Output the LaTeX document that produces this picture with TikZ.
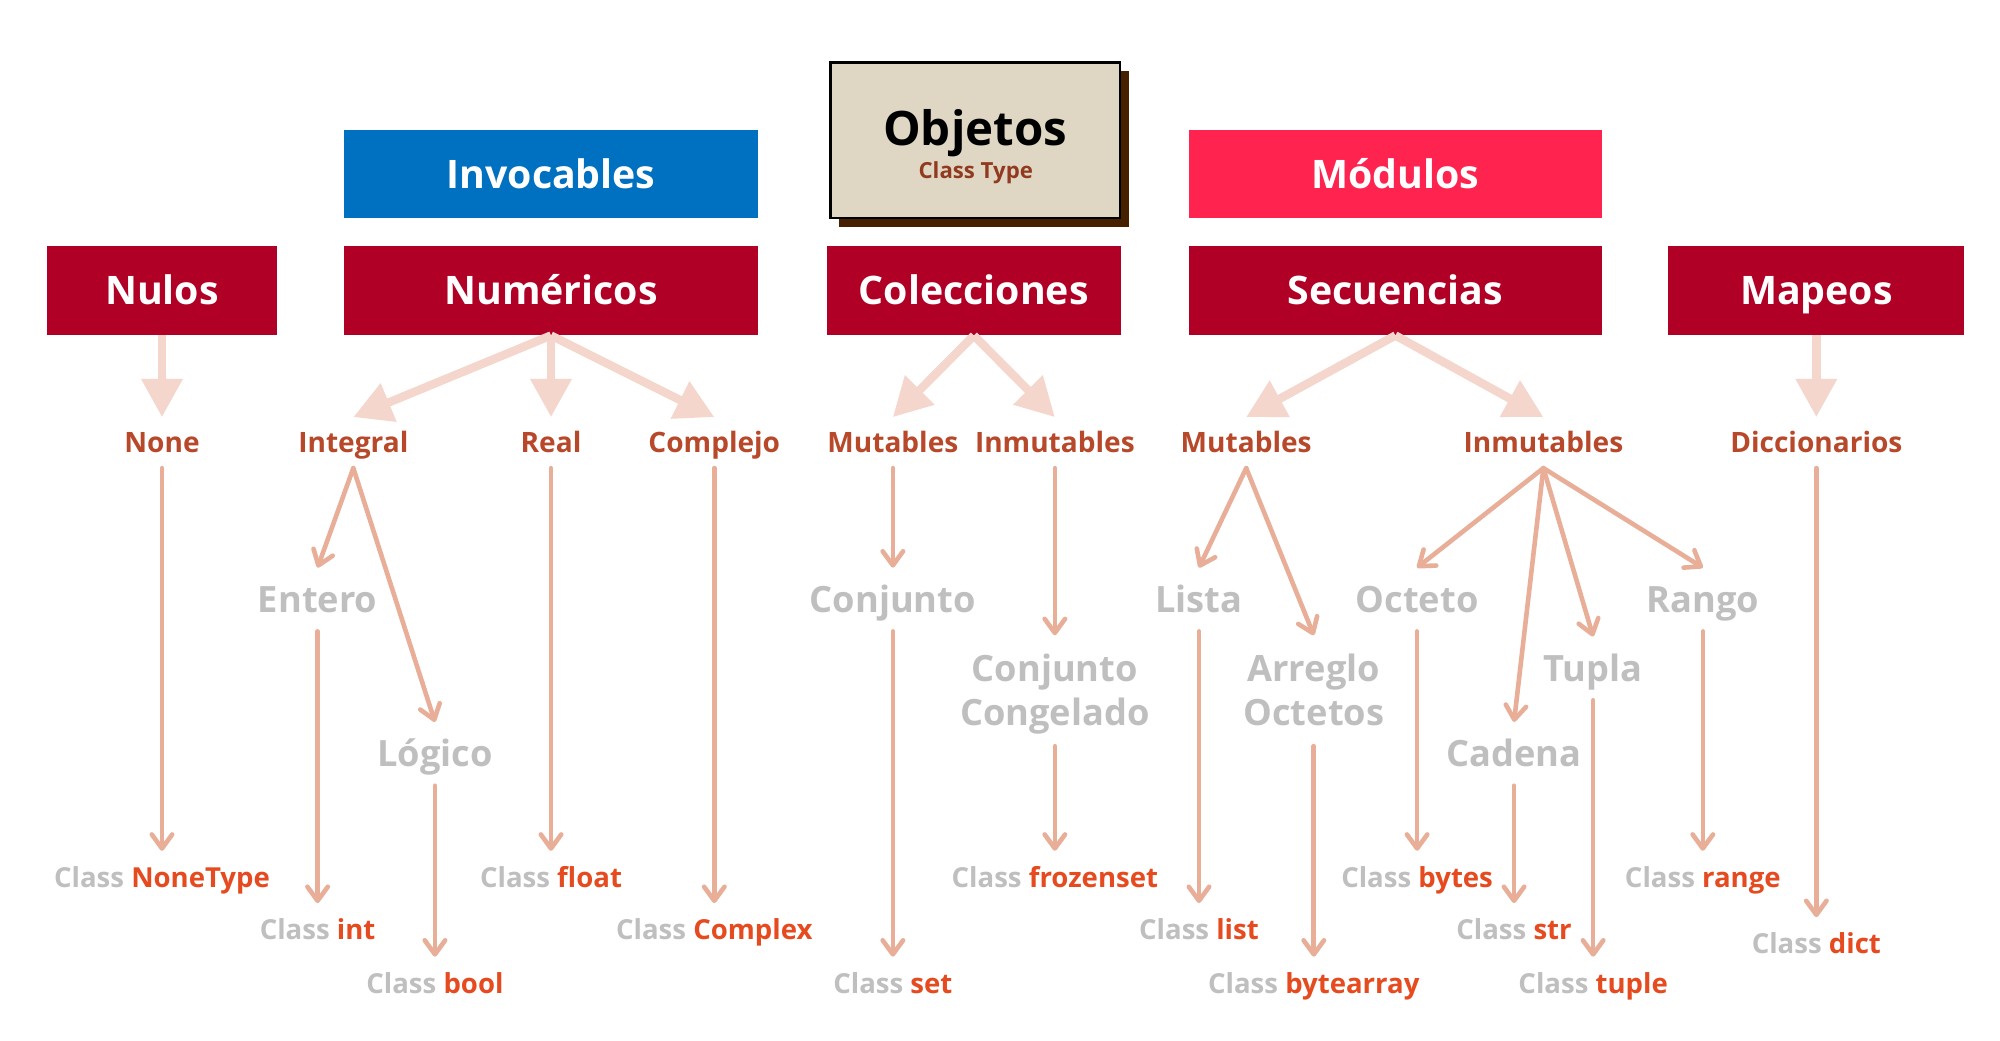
\documentclass[tikz,border=0pt]{standalone}
\usepackage{fontspec}
\setmainfont{Open Sans}
\usetikzlibrary{arrows.meta,shadows}
\definecolor{boxred}{HTML}{B00026}
\definecolor{boxblue}{HTML}{0070C0}
\definecolor{boxpink}{HTML}{FF2350}
\definecolor{objfill}{HTML}{DFD7C3}
\definecolor{objshadow}{HTML}{452100}
\definecolor{subbrown}{HTML}{923A1F}
\definecolor{lvltwo}{HTML}{B8482A}
\definecolor{lvlgray}{HTML}{BFBFBF}
\definecolor{clsname}{HTML}{E64A1F}
\definecolor{thickcol}{HTML}{F4D6CC}
\definecolor{thincol}{HTML}{E8AE98}
\begin{document}
\begin{tikzpicture}[x=0.5pt,y=-0.5pt,
  catbox/.style={fill=boxred, text=white, inner sep=0pt, outer sep=0pt,
    minimum height=35pt, font=\fontsize{15.4}{18}\selectfont\bfseries,
    text height=11pt, text depth=0pt},
  topbox/.style={catbox, minimum height=34.5pt, minimum width=162pt},
  lvltwolbl/.style={text=lvltwo, inner sep=0pt, outer sep=0pt, minimum height=20pt,
    font=\fontsize{11}{13}\selectfont\bfseries, text height=7.85pt, text depth=0pt},
  lvlthree/.style={text=lvlgray, inner sep=0pt, outer sep=0pt, minimum height=25pt,
    font=\fontsize{14.2}{17.5}\selectfont\bfseries, text height=10.1pt, text depth=0pt, align=center},
  lvlthreetwo/.style={lvlthree, minimum height=43.5pt, text height=27.6pt, text depth=0pt},
  clslbl/.style={text=lvlgray, inner sep=0pt, outer sep=0pt, minimum height=21pt,
    font=\fontsize{10.8}{13}\selectfont\bfseries, text height=7.7pt, text depth=0pt},
  thickarrow/.style={draw=thickcol, line width=3.3pt, -{Triangle[length=15pt,width=15.5pt]}},
  thinarrow/.style={draw=thincol, line width=1.8pt, line cap=round,
    -{Straight Barb[length=5.5pt,width=8pt,line cap=round,line join=round]}}
]
\fill[white] (0,0) rectangle (1568,815.4);
\useasboundingbox (0,0) rectangle (1568,815.4);

% top boxes
\node[draw=black, line width=1pt, fill=objfill, minimum width=113.5pt, minimum height=61pt,
  inner sep=0pt, outer sep=0pt,
  general shadow={fill=objshadow, shadow xshift=3.5pt, shadow yshift=-3.5pt}] (objetos) at (764.5,110) {};
\node[inner sep=0pt, font=\fontsize{18.6}{22}\selectfont\bfseries, text height=13.3pt, text depth=0pt] (objtitle) at (764.5,101) {Objetos};
\node[inner sep=0pt, text=subbrown, font=\fontsize{8.7}{10}\selectfont\bfseries, text height=6.2pt, text depth=0pt] (objsub) at (765,134) {Class Type};

\node[topbox, fill=boxblue] (invocables) at (432,136.5) {Invocables};
\node[topbox, fill=boxpink] (modulos) at (1094,136.5) {Módulos};

% category boxes
\node[catbox, minimum width=90pt] (nulos) at (127,228) {Nulos};
\node[catbox, minimum width=162pt] (numericos) at (432,228) {Numéricos};
\node[catbox, minimum width=115.5pt] (colecciones) at (763.5,228) {Colecciones};
\node[catbox, minimum width=162pt] (secuencias) at (1094,228) {Secuencias};
\node[catbox, minimum width=116pt] (mapeos) at (1424,228) {Mapeos};

% level two
\node[lvltwolbl] (none) at (127,347) {None};
\node[lvltwolbl] (integral) at (277,347) {Integral};
\node[lvltwolbl] (real) at (432,347) {Real};
\node[lvltwolbl] (complejo) at (560,347) {Complejo};
\node[lvltwolbl] (cmut) at (700,347) {Mutables};
\node[lvltwolbl] (cinm) at (827,347) {Inmutables};
\node[lvltwolbl] (smut) at (977,347) {Mutables};
\node[lvltwolbl] (sinm) at (1210,347) {Inmutables};
\node[lvltwolbl] (dicc) at (1424,347) {Diccionarios};

% level three
\node[lvlthree] (entero) at (249,470) {Entero};
\node[lvlthree] (logico) at (341,591) {Lógico};
\node[lvlthree] (conjunto) at (700,470) {Conjunto};
\node[lvlthreetwo] (congelado) at (827,541.5) {Conjunto\\Congelado};
\node[lvlthree] (lista) at (940,470) {Lista};
\node[lvlthreetwo] (arreglo) at (1030,541.5) {Arreglo\\Octetos};
\node[lvlthree] (octeto) at (1111,470) {Octeto};
\node[lvlthree] (tupla) at (1249,524) {Tupla};
\node[lvlthree] (cadena) at (1187,591) {Cadena};
\node[lvlthree] (rango) at (1335,470) {Rango};

% classes
\node[clslbl] (nonetype) at (127,688) {Class \textcolor{clsname}{NoneType}};
\node[clslbl] (int) at (249,729) {Class \textcolor{clsname}{int}};
\node[clslbl] (bool) at (341,771) {Class \textcolor{clsname}{bool}};
\node[clslbl] (float) at (432,688) {Class \textcolor{clsname}{float}};
\node[clslbl] (complex) at (560,729) {Class \textcolor{clsname}{Complex}};
\node[clslbl] (set) at (700,771) {Class \textcolor{clsname}{set}};
\node[clslbl] (frozenset) at (827,688) {Class \textcolor{clsname}{frozenset}};
\node[clslbl] (list) at (940,729) {Class \textcolor{clsname}{list}};
\node[clslbl] (bytearray) at (1030,771) {Class \textcolor{clsname}{bytearray}};
\node[clslbl] (bytes) at (1111,688) {Class \textcolor{clsname}{bytes}};
\node[clslbl] (str) at (1187,729) {Class \textcolor{clsname}{str}};
\node[clslbl] (tuple) at (1249,771) {Class \textcolor{clsname}{tuple}};
\node[clslbl] (range) at (1335,688) {Class \textcolor{clsname}{range}};
\node[clslbl] (dict) at (1424,740) {Class \textcolor{clsname}{dict}};

% thick arrows
\draw[thickarrow] (nulos.south) -- (none.north);
\draw[thickarrow] (numericos.south) -- (integral.north);
\draw[thickarrow] (numericos.south) -- (real.north);
\draw[thickarrow] (numericos.south) -- (complejo.north);
\draw[thickarrow] (colecciones.south) -- (cmut.north);
\draw[thickarrow] (colecciones.south) -- (cinm.north);
\draw[thickarrow] (secuencias.south) -- (smut.north);
\draw[thickarrow] (secuencias.south) -- (sinm.north);
\draw[thickarrow] (mapeos.south) -- (dicc.north);

% thin arrows
\draw[thinarrow] (none.south) -- (nonetype.north);
\draw[thinarrow] (integral.south) -- (entero.north);
\draw[thinarrow] (integral.south) -- (logico.north);
\draw[thinarrow] (real.south) -- (float.north);
\draw[thinarrow] (complejo.south) -- (complex.north);
\draw[thinarrow] (cmut.south) -- (conjunto.north);
\draw[thinarrow] (cinm.south) -- (congelado.north);
\draw[thinarrow] (smut.south) -- (lista.north);
\draw[thinarrow] (smut.south) -- (arreglo.north);
\draw[thinarrow] (sinm.south) -- (octeto.north);
\draw[thinarrow] (sinm.south) -- (cadena.north);
\draw[thinarrow] (sinm.south) -- (tupla.north);
\draw[thinarrow] (sinm.south) -- (rango.north);
\draw[thinarrow] (dicc.south) -- (dict.north);
\draw[thinarrow] (entero.south) -- (int.north);
\draw[thinarrow] (logico.south) -- (bool.north);
\draw[thinarrow] (conjunto.south) -- (set.north);
\draw[thinarrow] (congelado.south) -- (frozenset.north);
\draw[thinarrow] (lista.south) -- (list.north);
\draw[thinarrow] (arreglo.south) -- (bytearray.north);
\draw[thinarrow] (octeto.south) -- (bytes.north);
\draw[thinarrow] (cadena.south) -- (str.north);
\draw[thinarrow] (tupla.south) -- (tuple.north);
\draw[thinarrow] (rango.south) -- (range.north);
\end{tikzpicture}
\end{document}
